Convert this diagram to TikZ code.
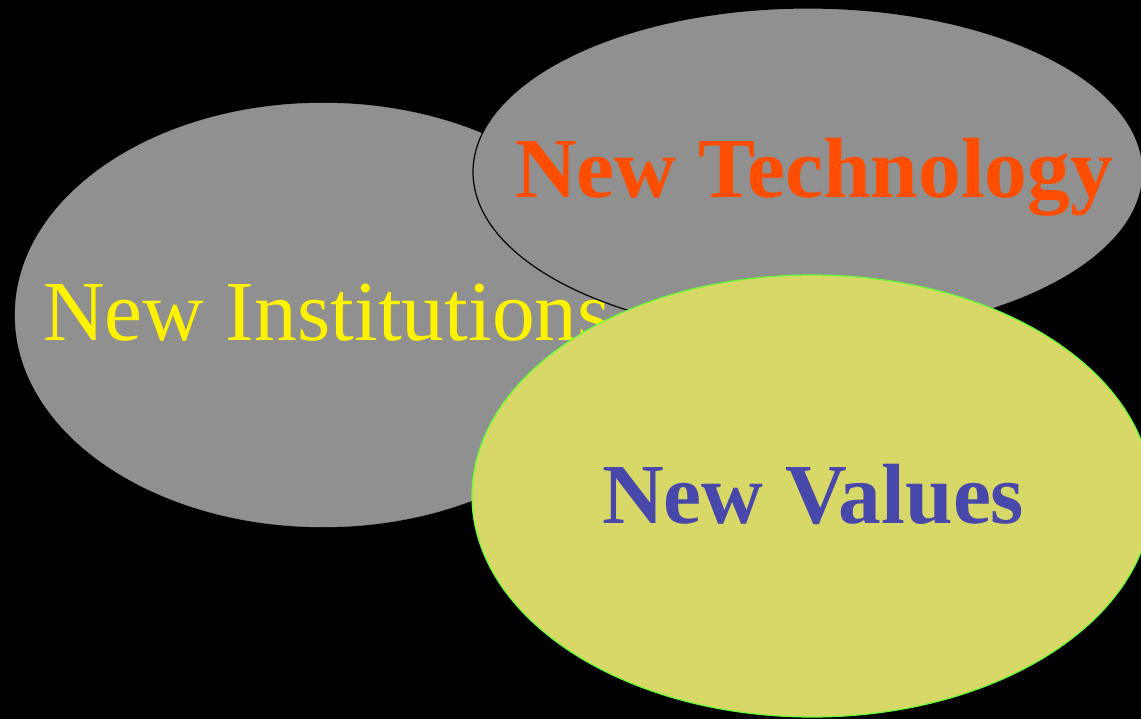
\documentclass[tikz,border=0pt]{standalone}
\usepackage{fontspec}
\setmainfont{Liberation Serif}
\definecolor{ovalgray}{RGB}{144,144,144}
\definecolor{valfill}{RGB}{216,216,104}
\definecolor{valline}{RGB}{102,255,51}
\definecolor{techtext}{RGB}{255,77,0}
\definecolor{valtext}{RGB}{72,72,170}
\begin{document}
\begin{tikzpicture}[x=1pt,y=-1pt,
  lbl/.style={anchor=base west,inner sep=0pt,font=\fontsize{85.5}{86}\selectfont}]
\fill[black] (0,0) rectangle (1141,719);
\useasboundingbox (0,0) rectangle (1141,719);
% New Institutions
\draw[fill=ovalgray,draw=ovalgray] (323,315) ellipse [x radius=308pt,y radius=212pt];
\node[lbl,text=yellow] (inst) at (43,341) {New Institutions};
% New Technology
\draw[fill=ovalgray,draw=black,line width=1.2pt] (808,172) ellipse [x radius=335pt,y radius=164pt];
\node[lbl,text=techtext,font=\fontsize{85.5}{86}\selectfont\bfseries] (tech) at (515,198) {New Technology};
% New Values
\draw[fill=valfill,draw=valline,line width=1.2pt] (812,496) ellipse [x radius=340pt,y radius=221pt];
\node[lbl,text=valtext,font=\fontsize{85.5}{86}\selectfont\bfseries] (vals) at (602,523) {New Values};
\end{tikzpicture}
\end{document}
